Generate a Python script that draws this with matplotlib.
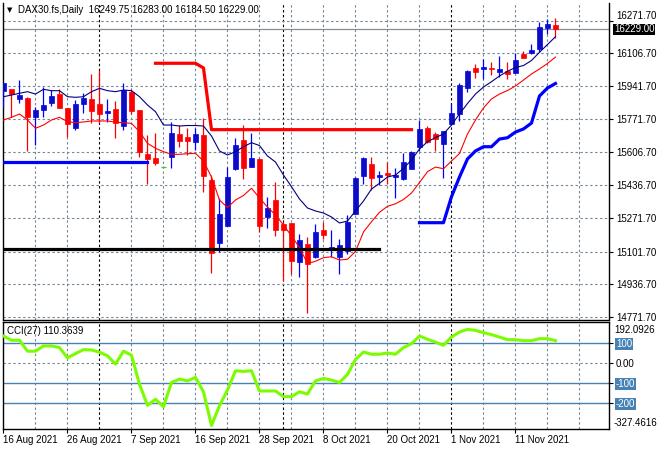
import matplotlib
matplotlib.use('Agg')
import matplotlib.pyplot as plt
import matplotlib.transforms as mtransforms
import numpy as np

plt.rcParams['font.family'] = ['Liberation Sans', 'DejaVu Sans']

# DAX30 daily bars, 16 Aug 2021 .. 19 Nov 2021
opens = [15917, 15925.5, 15876.5, 15881.5, 15785, 15819, 15856, 15900, 15827.5, 15726.5,
         15851, 15875, 15851, 15805.5, 15824, 15739.5, 15912, 15819, 15596, 15576,
         15528.5, 15579.5, 15697.5, 15682.5, 15658.5, 15692.5, 15464.5, 15146.5, 15231, 15520,
         15667, 15532, 15569.5, 15278.5, 15363, 15241.5, 15245, 15050.5, 15140, 15072.5,
         15211, 15114.5, 15075.5, 15106, 15290.5, 15484.5, 15544, 15481, 15498.5, 15481,
         15468, 15520, 15633, 15726.5, 15697.5, 15645.5, 15746.5, 15797.5, 15929, 16030.5,
         16025.5, 16030.5, 16010, 16018.5, 16008, 16101.5, 16109.5, 16128.5, 16236, 16249.75]
highs = [15954.5, 15925.5, 15971, 15885, 15836, 15937, 15920.5, 15924, 15827.5, 15870,
         15904, 16001.5, 16022, 15873.5, 15864.5, 15957.5, 15924, 15819, 15692.5, 15704,
         15528.5, 15760, 15743, 15726.5, 15726.5, 15777, 15489.5, 15371.5, 15532, 15675.5,
         15743, 15701, 15576, 15379.5, 15455.5, 15253, 15245, 15189, 15177, 15241.5,
         15250, 15211, 15165.5, 15287, 15481, 15582.5, 15582.5, 15510, 15555.5, 15525,
         15600, 15611.5, 15768.5, 15738, 15709, 15712.5, 15848, 15954.5, 16022, 16050.5,
         16076, 16064, 16094.5, 16064, 16109.5, 16118, 16152, 16263.5, 16280.5, 16283]
lows = [15836, 15783.5, 15854.5, 15613, 15641.5, 15785, 15839.5, 15831, 15684, 15718,
        15805.5, 15751.5, 15751.5, 15760, 15679, 15718, 15797.5, 15582.5, 15444, 15540.5,
        15528.5, 15526.5, 15633, 15591, 15616.5, 15405, 14994.5, 15101, 15231, 15515,
        15469.5, 15532, 15202.5, 15219.5, 15180.5, 14954, 14988, 14971, 14792, 15067.5,
        15164, 15074, 14986.5, 15089.5, 15290.5, 15442.5, 15413.5, 15439, 15442.5, 15375,
        15464.5, 15520, 15611.5, 15650.5, 15613, 15476, 15743, 15763.5, 15909, 15983,
        15976, 15996.5, 15985, 15974.5, 16005, 16081, 16101.5, 16111.5, 16203, 16184.5]
closes = [15954.5, 15898.5, 15896.5, 15783.5, 15819, 15844.5, 15890, 15831, 15746.5, 15849.5,
          15881.5, 15814, 15800.5, 15814, 15755, 15920.5, 15814, 15608, 15569.5, 15552,
          15528.5, 15704, 15663.5, 15663.5, 15697.5, 15484.5, 15096, 15292, 15478, 15641.5,
          15526.5, 15574.5, 15231, 15324, 15211, 15211, 15054, 15160.5, 15038.5, 15199.5,
          15185.5, 15125, 15135, 15250, 15473, 15574.5, 15473, 15489.5, 15489.5, 15489.5,
          15557, 15604.5, 15721.5, 15655.5, 15670.5, 15712.5, 15802.5, 15946, 16017, 16013,
          16035.5, 16025.5, 16027, 16001.5, 16072.5, 16084, 16123, 16238, 16253.5, 16229]

# moving averages drawn on the price panel
navy_ma = [15886.5, 15895, 15904, 15912, 15900, 15924, 15917, 15917, 15886.5, 15883.5,
           15886.5, 15912, 15929, 15917, 15912, 15920.5, 15917, 15886.5, 15844.5, 15810.5,
           15743, 15743, 15738, 15740.5, 15740.5, 15738, 15687.5, 15611.5, 15591, 15608,
           15633, 15653.5, 15639, 15586, 15555.5, 15489.5, 15430.5, 15368, 15322.5, 15307.5,
           15297, 15277, 15246.5, 15256.5, 15307.5, 15358, 15418.5, 15447.5, 15479.5, 15489.5,
           15523.5, 15565.5, 15621.5, 15658.5, 15679.5, 15697.5, 15743, 15799, 15852, 15900,
           15935.5, 15962.5, 15991.5, 16015.5, 16034.5, 16044.5, 16070, 16111.5, 16151, 16190.5]
red_ma = [15768.5, 15782, 15799, 15768.5, 15726.5, 15743, 15768.5, 15782, 15760, 15755,
          15758.5, 15763.5, 15763.5, 15763.5, 15757, 15755, 15751.5, 15709, 15650.5, 15625,
          15608, 15594.5, 15594.5, 15597.5, 15599.5, 15560.5, 15479.5, 15363, 15325, 15363,
          15386, 15422.5, 15373, 15327.5, 15287, 15236.5, 15180.5, 15122.5, 15041, 15052.5,
          15070.5, 15075.5, 15059, 15062.5, 15102, 15201, 15253, 15300.5, 15331, 15344,
          15365.5, 15398.5, 15451.5, 15506.5, 15530, 15521.5, 15560.5, 15598.5, 15697.5, 15768.5,
          15829.5, 15875, 15900, 15918, 15941, 15971, 16001.5, 16027, 16055, 16087.5]

# thick level lines
red_level_idx = [19, 24, 25, 26, 51]
red_level = [16056, 16056, 16032, 15719.5, 15719.5]
blue_level_idx = [0, 18]
blue_level = [15557, 15557]
blue_trail_idx = list(range(52, 70))
blue_trail = [15248, 15248, 15248, 15248, 15379.5, 15479.5, 15571, 15611.5, 15633, 15633,
              15672, 15678.5, 15707.5, 15723, 15753, 15890, 15930.5, 15953.5]
black_level_idx = [0, 47]
black_level = [15116, 15116]

cci = [133, 112, 112, 58, 58, 84, 84, 76, 25, 46,
       66, 64, 53, 35, -6, 58, 38, -106, -210, -180,
       -217, -97, -80, -89, -72, -143, -310, -212, -134, -39,
       -42, -39, -139, -139, -139, -167, -167, -143, -154, -89,
       -77, -85, -97, -57, 17, 54, 43, 43, 49, 43,
       76, 95, 133, 117, 103, 87, 128, 153, 166, 161,
       150, 140, 128, 115, 115, 110, 110, 120, 120, 110.3639]
cci_levels = [100, -100, -200]

price_ticks = [16271.70, 16106.70, 15941.70, 15771.70, 15606.70,
               15436.70, 15271.70, 15101.70, 14936.70, 14771.70]
last_price = 16229.00
date_idx = [0, 8, 16, 24, 32, 40, 48, 56, 64]
date_labels = ['16 Aug 2021', '26 Aug 2021', '7 Sep 2021', '16 Sep 2021', '28 Sep 2021',
               '8 Oct 2021', '20 Oct 2021', '1 Nov 2021', '11 Nov 2021']
month_idx = [12, 35, 56]
grid_idx = list(range(4, 76, 4))

W, H = 660, 450
FS = 7
GRID = '#778899'


def box(x0, y0, x1, y1):
    return [x0 / W, 1 - y1 / H, (x1 - x0) / W, (y1 - y0) / H]


def draw_vgrid(a):
    for i in grid_idx:
        if i in month_idx:
            continue
        a.axvline(i, color=GRID, lw=0.8, dashes=(2.2, 2.2), zorder=0)
    for i in month_idx:
        a.axvline(i, color='black', lw=0.8, dashes=(2.2, 2.2), zorder=0)


fig = plt.figure(figsize=(6.6, 4.5), dpi=100)
ax = fig.add_axes(box(2.7, 3, 609, 319.5))
cax = fig.add_axes(box(2.7, 322, 609, 428.5))

x = np.arange(len(opens))
o, h, l, c = map(np.array, (opens, highs, lows, closes))

# --- price panel ---
ax.set_xlim(-0.1, 75.69)
ax.set_ylim(14757.4, 16361.4)
draw_vgrid(ax)
for p in price_ticks:
    ax.axhline(p, color=GRID, lw=0.8, dashes=(2.2, 2.2), zorder=0)
ax.axhline(last_price, color='#8c8c8c', lw=0.9, zorder=1)

up = c > o
dn = c < o
fl = c == o
ax.vlines(x[up], l[up], h[up], color='#0000ff', lw=0.9, zorder=3)
ax.bar(x[up], c[up] - o[up], bottom=o[up], width=0.6, color='#0c0cc0',
       edgecolor='#0000ff', lw=0.5, zorder=4)
ax.vlines(x[dn], l[dn], h[dn], color='#ff0000', lw=0.9, zorder=3)
ax.bar(x[dn], o[dn] - c[dn], bottom=c[dn], width=0.6, color='#ff0000',
       edgecolor='#ff0000', lw=0.5, zorder=4)
ax.hlines(c[fl], x[fl] - 0.3, x[fl] + 0.3, color='#32cd32', lw=0.9, zorder=4)

ax.plot(x, navy_ma, color='#000080', lw=0.8, zorder=5)
ax.plot(x, red_ma, color='#ff0000', lw=0.8, zorder=5)
ax.plot(red_level_idx, red_level, color='#ff0000', lw=2.3, zorder=6)
ax.plot(blue_level_idx, blue_level, color='#0000ff', lw=2.3, zorder=6)
ax.plot(blue_trail_idx, blue_trail, color='#0000ff', lw=2.3, zorder=6)
ax.plot(black_level_idx, black_level, color='black', lw=2.3, zorder=6)

ax.spines['top'].set_visible(False)
for s in ('left', 'right', 'bottom'):
    ax.spines[s].set_linewidth(1.0)
ax.set_xticks([])
ax.yaxis.tick_right()
ax.set_yticks(price_ticks)
ax.set_yticklabels([f'{p:.2f}' for p in price_ticks])
ax.tick_params(axis='y', length=3, width=0.8, pad=2, labelsize=FS)
# the top label sits just above the current-price box, as in the terminal
ax.get_yticklabels()[0].set_va('bottom')

blend = mtransforms.blended_transform_factory(ax.transAxes, ax.transData)
ax.text(1.0 + 5 / 606.3, last_price, f'{last_price:.2f}', transform=blend,
        ha='left', va='center', color='white', fontsize=FS,
        bbox=dict(facecolor='black', edgecolor='none', pad=0.4))

fig.text(7 / W, 1 - 10 / H, '\u25bc', fontsize=5, va='center', ha='left',
         family='DejaVu Sans')
fig.text(18 / W, 1 - 10 / H,
         f'DAX30.fs,Daily  {opens[-1]:.2f} {highs[-1]:.2f} {lows[-1]:.2f} {closes[-1]:.2f}',
         fontsize=FS, va='center', ha='left')

# --- CCI panel ---
cax.set_xlim(-0.1, 75.69)
cax.set_ylim(-324.8, 202.5)
draw_vgrid(cax)
cax.axhline(0, color=GRID, lw=0.8, dashes=(2.2, 2.2), zorder=0)
for lv in cci_levels:
    cax.axhline(lv, color='#4682b4', lw=1.0, zorder=1)
cax.plot(x, cci, color='#7cfc00', lw=2.2, zorder=3, solid_joinstyle='round')

for s in cax.spines.values():
    s.set_linewidth(1.0)
cax.yaxis.tick_right()
cax.set_yticks([100, 0, -100, -200])
cax.set_yticklabels(['100', '0.00', '-100', '-200'])
cax.tick_params(axis='y', length=3, width=0.8, pad=2, labelsize=FS)
for lab in cax.get_yticklabels():
    if lab.get_text() != '0.00':
        lab.set_color('white')
        lab.set_bbox(dict(facecolor='#4682b4', edgecolor='none', pad=0.8))

cax.set_xticks(date_idx)
cax.set_xticklabels(date_labels, ha='left')
cax.tick_params(axis='x', length=3, width=0.8, pad=1.5, labelsize=FS)

fig.text(614 / W, 1 - 329.7 / H, '192.0926', fontsize=FS, va='center', ha='left')
fig.text(614 / W, 1 - 423.3 / H, '-327.4616', fontsize=FS, va='center', ha='left')
cax.text(4 / 606.3, 1 - 9.5 / 106.5, f'CCI(27) {cci[-1]:.4f}', transform=cax.transAxes,
         fontsize=FS, va='center', ha='left')

fig.savefig('out.png', dpi=100, facecolor='white')
